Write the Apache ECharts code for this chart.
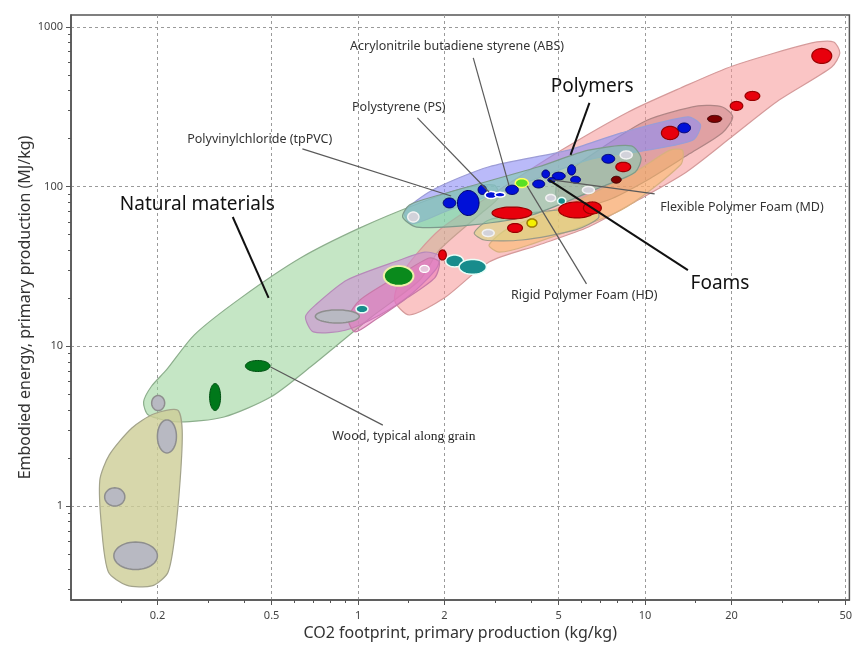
<!DOCTYPE html>
<html><head><meta charset="utf-8">
<script src="https://cdn.jsdelivr.net/npm/echarts@6/dist/echarts.min.js"></script>
<style>html,body{margin:0;padding:0;background:#fff}#c{width:855px;height:646px}</style>
</head><body><div id="c"></div>
<script>
// ---------- axis ticks ----------
const X_TICKS = [0.2, 0.5, 1, 2, 5, 10, 20, 50];
const X_MINOR = [0.15, 0.3, 0.4, 0.6, 0.7, 0.8, 0.9, 1.5, 3, 4, 6, 7, 8, 9, 15, 30, 40];
const Y_TICKS = [1, 10, 100, 1000];
const Y_MINOR = [0.3,0.4,0.5,0.6,0.7,0.8,0.9,2,3,4,5,6,7,8,9,20,30,40,50,60,70,80,90,200,300,400,500,600,700,800,900];

// ---------- envelopes (CO2 kg/kg, energy MJ/kg) ----------
const envNatural = [[0.179,4.48],[0.191,5.64],[0.215,7.11],[0.269,11.8],[0.391,20.1],[0.630,35.7],[1.016,55.1],[1.64,78.9],[2.35,98.0],[2.98,102],[3.10,86.1],[2.64,66.4],[1.92,40.1],[1.64,26.0],[1.10,15.0],[0.682,7.42],[0.496,4.81],[0.341,3.61],[0.236,3.36],[0.186,3.71]];
const envOlive = [[0.235,3.99],[0.244,2.99],[0.240,1.45],[0.229,0.61],[0.217,0.38],[0.191,0.316],[0.156,0.32],[0.135,0.386],[0.128,0.71],[0.126,1.45],[0.136,2.09],[0.163,3.08],[0.194,3.77]];
const envSalmon = [[1.34,19.5],[1.45,30.0],[1.92,53.5],[3.10,95.2],[5.0,165],[8.74,293],[13.3,414],[20.2,569],[38.1,793],[45.4,804],[47.7,686],[44.7,561],[29.3,348],[20.2,207],[13.9,123],[9.46,82.4],[6.35,55.8],[4.26,43.1],[2.86,33.7],[2.0,20.1],[1.51,15.7]];
const envOrchid = [[0.656,15.3],[0.710,18.1],[0.916,26.0],[1.40,34.7],[1.71,38.9],[1.92,36.8],[1.88,30.9],[1.55,21.6],[1.19,15.7],[0.902,12.6],[0.699,12.3]];
const envMagenta = [[0.923,15.0],[1.016,19.5],[1.40,28.0],[1.77,35.7],[1.92,33.7],[1.85,26.8],[1.45,19.5],[1.145,14.6],[0.976,12.3]];
const envMauve = [[5.0,110],[6.88,169],[10.2,261],[15.3,320],[18.6,315],[20.2,273],[18.6,217],[14.1,158],[10.2,110],[7.45,82.4],[5.63,73.5],[4.92,84.8]];
const envOrange = [[2.86,43.1],[3.36,55.1],[5.86,82.4],[9.46,127],[12.2,169],[13.5,169],[13.3,137],[8.26,71.3],[3.94,43.1],[3.10,38.9]];
const envKhaki = [[2.54,51.2],[2.86,61.8],[4.26,69.3],[6.71,73.5],[6.88,63.6],[5.73,53.5],[3.72,46.3],[2.75,46.3]];
const envLavender = [[1.45,69.3],[1.82,95.2],[2.86,133],[5.41,169],[8.26,217],[14.1,273],[15.6,243],[14.7,196],[10.2,169],[6.35,147],[3.64,102],[2.08,71.3],[1.54,58.3]];
const envTeal = [[1.43,64.5],[1.51,76.7],[1.92,88.6],[4.26,133],[6.35,169],[8.95,180],[9.68,151],[9.23,123],[7.04,99.4],[4.03,66.4],[2.50,57.5],[1.60,55.8]];

// ---------- material bubbles [co2 lo, co2 hi, energy lo, energy hi] ----------
const grayBubbles = [[0.191,0.212,3.96,4.92],[0.20,0.233,2.15,3.46],[0.131,0.154,1.0,1.3],[0.141,0.20,0.40,0.595],[0.71,1.01,14.0,16.9]];
const paleBubbles = [[1.49,1.63,60,69.3],[2.71,2.98,48.7,53.9],[4.51,4.88,80.7,89.2],[6.05,6.66,90.5,100],[8.19,9.02,149,167]];
const pinkBubbles = [[1.64,1.77,29.0,32.1]];
const darkGreenBubbles = [[0.304,0.332,3.96,5.85],[0.405,0.494,6.95,8.15]];
const greenBubbles = [[1.23,1.56,23.9,31.8]];
const tealBubbles = [[0.984,1.083,16.2,18.1],[2.02,2.33,31.4,37.3],[2.25,2.80,28.2,35.0],[4.96,5.29,77.3,85.5]];
const redBubbles = [[1.91,2.03,34.7,40.1],[2.93,4.03,62.7,74.5],[3.32,3.74,51.6,58.7],[5.0,6.71,63.6,80.1],[6.10,7.04,67.4,80.1],[7.91,8.91,124,142],[11.4,13.1,197,238],[19.8,21.9,300,341],[22.3,25.1,346,394],[38.1,44.7,590,732]];
const darkRedBubbles = [[7.63,8.26,105,116],[16.5,18.5,252,279]];
const yellowBubbles = [[3.88,4.20,55.8,62.7]];
const limeBubbles = [[3.53,3.92,98.7,112]];
const blueBubbles = [[1.98,2.19,73.5,84.8],[2.22,2.64,65.9,94.5],[2.62,2.80,89.2,102],[3.27,3.62,89.2,102],[4.06,4.47,98,110],[4.37,4.65,113,127],[4.75,5.27,110,123],[5.37,5.73,118,137],[5.50,5.96,105,116],[4.58,4.88,106,114],[7.07,7.84,140,159],[13.0,14.4,217,250]];
const blueRingBubbles = [[2.77,3.05,84.2,93.1],[3.0,3.25,86,92]];

// ---------- annotations ----------
const ANNO_TEXT = ['Acrylonitrile butadiene styrene (ABS)','Polymers','Polystyrene (PS)','Polyvinylchloride (tpPVC)','Natural materials','{a|Wood, typical }{b|along grain}','Flexible Polymer Foam (MD)','Foams','Rigid Polymer Foam (HD)'];
const ANNO_POS = [[0.938,749],[4.69,421],[0.953,315],[0.254,196],[0.148,76.7],[0.813,2.74],[11.3,74.5],[14.4,24.6],[3.41,20.9]];
const ANNO_LINE = [[2.52,639,3.36,101],[6.40,334,5.50,158],[1.61,269,2.86,92.5],[0.640,172,2.11,87.3],[0.366,64.5,0.488,20.1],[0.496,7.42,1.22,3.21],[4.73,110,10.8,89.9],[4.62,110,14.1,30.0],[3.88,101,6.25,24.6]];
const BIG = [1, 4, 7];

const FONT = 'Noto Sans';

function envSeries(pts, fill, stroke, z) {
  return {
    type: 'custom', coordinateSystem: 'cartesian2d', data: pts, silent: true, z: z,
    renderItem: function (params, api) {
      if (params.dataIndex !== 0) return null;
      const p = pts.map(function (d) { return api.coord(d); });
      return { type: 'polygon', shape: { points: p, smooth: 0.25 }, style: { fill: fill, stroke: stroke, lineWidth: 1.2 } };
    }
  };
}
function bubbleSeries(data, fill, stroke, lw, z) {
  return {
    type: 'custom', coordinateSystem: 'cartesian2d', data: data, encode: { x: [0, 1], y: [2, 3] }, silent: true, z: z,
    renderItem: function (params, api) {
      const a = api.coord([api.value(0), api.value(2)]);
      const b = api.coord([api.value(1), api.value(3)]);
      const cx = (a[0] + b[0]) / 2, cy = (a[1] + b[1]) / 2;
      const rx = Math.abs(b[0] - a[0]) / 2, ry = Math.abs(b[1] - a[1]) / 2;
      const pts = [];
      for (let i = 0; i < 48; i++) { const t = i / 48 * Math.PI * 2; pts.push([cx + rx * Math.cos(t), cy + ry * Math.sin(t)]); }
      return { type: 'polygon', shape: { points: pts }, style: { fill: fill, stroke: stroke, lineWidth: lw } };
    }
  };
}

const fmt = function (v) { return String(+Number(v).toPrecision(3)); };

const chart = echarts.init(document.getElementById('c'), null, { renderer: 'canvas' });
chart.setOption({
  animation: false,
  backgroundColor: '#fff',
  grid: { left: 71, right: 2, top: 15, bottom: 46, show: true, borderColor: '#555', borderWidth: 1.5, backgroundColor: 'transparent' },
  xAxis: [{
    type: 'log', min: 0.1, max: 51.5, position: 'bottom',
    name: 'CO2 footprint, primary production (kg/kg)', nameLocation: 'middle', nameGap: 25, nameMoveOverlap: false,
    nameTextStyle: { fontFamily: FONT, fontSize: 16, color: '#333' },
    axisLine: { show: true, lineStyle: { color: '#555', width: 1.5 } },
    axisTick: { show: true, customValues: X_TICKS, length: 5, lineStyle: { color: '#555' } },
    axisLabel: { show: true, customValues: X_TICKS, formatter: fmt, margin: 10, fontFamily: FONT, fontSize: 11, color: '#444' },
    splitLine: { show: true, lineStyle: { color: '#9a9a9a', type: [3, 3], width: 1 } }
  }, {
    type: 'log', min: 0.1, max: 51.5, position: 'bottom',
    axisLine: { show: false },
    axisTick: { show: true, customValues: X_MINOR, length: 3, lineStyle: { color: '#555' } },
    axisLabel: { show: false }, splitLine: { show: false }
  }],
  yAxis: [{
    type: 'log', min: 0.258, max: 1186, position: 'left',
    name: 'Embodied energy, primary production (MJ/kg)', nameLocation: 'middle', nameGap: 38, nameMoveOverlap: false,
    nameTextStyle: { fontFamily: FONT, fontSize: 16, color: '#333' },
    axisLine: { show: true, lineStyle: { color: '#555', width: 1.5 } },
    axisTick: { show: true, customValues: Y_TICKS, length: 5, lineStyle: { color: '#555' } },
    axisLabel: { show: true, customValues: Y_TICKS, formatter: fmt, margin: 8, fontFamily: FONT, fontSize: 11, color: '#444' },
    splitLine: { show: true, lineStyle: { color: '#9a9a9a', type: [3, 3], width: 1 } }
  }, {
    type: 'log', min: 0.258, max: 1186, position: 'left',
    axisLine: { show: false },
    axisTick: { show: true, customValues: Y_MINOR, length: 3, lineStyle: { color: '#555' } },
    axisLabel: { show: false }, splitLine: { show: false }
  }],
  series: [
    envSeries(envNatural, 'rgba(150,210,150,0.55)', '#8cae8c', 2),
    envSeries(envOlive, 'rgba(205,205,150,0.8)', '#a3a38a', 2),
    envSeries(envSalmon, 'rgba(246,150,150,0.55)', '#d59a9a', 2),
    envSeries(envOrchid, 'rgba(205,140,212,0.6)', '#b68ab9', 2),
    envSeries(envMagenta, 'rgba(232,100,180,0.45)', '#c77aa8', 2),
    envSeries(envMauve, 'rgba(175,95,100,0.35)', '#b08585', 2),
    envSeries(envOrange, 'rgba(250,185,95,0.5)', '#d8b080', 2),
    envSeries(envKhaki, 'rgba(215,215,130,0.6)', '#9a9a88', 2),
    envSeries(envLavender, 'rgba(140,140,245,0.6)', '#9c9cd6', 2),
    envSeries(envTeal, 'rgba(130,205,175,0.6)', '#7d9a8c', 2),
    bubbleSeries(grayBubbles, '#b8b9c2', '#8e8e8e', 1.5, 3),
    bubbleSeries(paleBubbles, '#d2d2da', '#f2f2f2', 1.5, 3),
    bubbleSeries(pinkBubbles, '#e6c4da', '#ffffff', 1.2, 3),
    bubbleSeries(darkGreenBubbles, '#00781a', '#005012', 1, 3),
    bubbleSeries(greenBubbles, '#0a8a1c', '#eef2a8', 2, 3),
    bubbleSeries(tealBubbles, '#188c8c', '#e8fff8', 1.5, 3),
    bubbleSeries(redBubbles, '#e8000c', '#9a0000', 1.2, 3),
    bubbleSeries(darkRedBubbles, '#7e0000', '#3c0000', 1, 3),
    bubbleSeries(yellowBubbles, '#f4f000', '#9c7c00', 1.5, 3),
    bubbleSeries(limeBubbles, '#58e024', '#ffff60', 1.5, 3),
    bubbleSeries(blueBubbles, '#0010d8', '#00006a', 1, 3),
    bubbleSeries(blueRingBubbles, '#0010d8', '#ffffff', 1.5, 3),
    {
      type: 'custom', coordinateSystem: 'cartesian2d', data: ANNO_LINE, encode: { x: [0, 2], y: [1, 3] }, silent: true, z: 5,
      renderItem: function (params, api) {
        const a = api.coord([api.value(0), api.value(1)]);
        const b = api.coord([api.value(2), api.value(3)]);
        const big = BIG.indexOf(params.dataIndex) >= 0;
        return { type: 'line', shape: { x1: a[0], y1: a[1], x2: b[0], y2: b[1] },
          style: { stroke: big ? '#111' : '#5a5a5a', lineWidth: big ? 2 : 1.2 } };
      }
    },
    {
      type: 'custom', coordinateSystem: 'cartesian2d', data: ANNO_POS, silent: true, z: 6,
      renderItem: function (params, api) {
        const p = api.coord([api.value(0), api.value(1)]);
        const i = params.dataIndex;
        const big = BIG.indexOf(i) >= 0;
        return { type: 'text', x: p[0], y: p[1],
          style: { text: ANNO_TEXT[i], fontFamily: FONT, fontSize: big ? 19 : 12.5, fill: big ? '#111' : '#333',
            align: 'left', verticalAlign: 'middle',
            rich: { a: { fontFamily: FONT, fontSize: 12.5, fill: '#333' }, b: { fontFamily: 'Liberation Serif', fontSize: 13.5, fill: '#222' } } } };
      }
    }
  ]
});
</script>
</body></html>
